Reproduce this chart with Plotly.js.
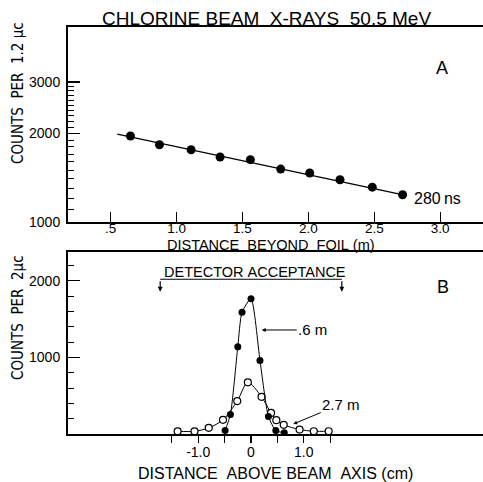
<!DOCTYPE html>
<html>
<head>
<meta charset="utf-8">
<script src="https://cdn.plot.ly/plotly-3.0.1.min.js"></script>
<style>
  html, body { margin: 0; padding: 0; background: #fff; }
  #chart { width: 483px; height: 482px; }
</style>
</head>
<body>
<div id="chart"></div>
<script>
// ---- Panel A data: counts vs distance beyond foil ----
const distanceA = [0.65, 0.87, 1.11, 1.33, 1.56, 1.79, 2.01, 2.24, 2.485, 2.715];
const countsA   = [1961, 1830, 1760, 1663, 1628, 1512, 1466, 1390, 1312, 1236];
const fitX = [0.55, 2.72];
const fitY = [1990, 1234];
const tickValsA = [0.5, 1.0, 1.5, 2.0, 2.5, 3.0];
const tickTextA = [".5", "1.0", "1.5", "2.0", "2.5", "3.0"];
const yTickValsA = [1000, 2000, 3000];
const yMinorA = [1100,1200,1300,1400,1500,1600,1700,1800,1900,2100,2200,2300,2400,2500,2600,2700,2800,2900];

// ---- Panel B data: counts vs distance above beam axis ----
const near_x = [-0.49, -0.39, -0.25, -0.17, 0.0, 0.17, 0.33, 0.47, 0.63];
const near_y = [45, 255, 1140, 1590, 1765, 960, 230, 45, 15];
const far_x  = [-1.39, -1.07, -0.80, -0.53, -0.26, -0.06, 0.20, 0.38, 0.48, 0.62, 0.92, 1.19, 1.47];
const far_y  = [35, 35, 80, 185, 430, 675, 485, 275, 180, 120, 58, 36, 36];
const tickValsB = [-1.5, -1.0, -0.5, 0, 0.5, 1.0, 1.5];
const tickTextB = ["", "-1.0", "", "0", "", "1.0", ""];
const yTickValsB = [1000, 2000];
const yMinorB = [200, 400, 600, 800, 1200, 1400, 1600, 1800, 2200];
const acceptX = [-1.72, 1.72];
const acceptY = 2020;
const acceptTip = 1858;

const FONT = '"Liberation Sans", Arial, sans-serif';
const NARROW = '"Liberation Sans Narrow", "DejaVu Sans Condensed", "Liberation Sans", Arial, sans-serif';
const NB = '\u00a0';

const traces = [
  { x: fitX, y: fitY, xaxis: 'x', yaxis: 'y', mode: 'lines',
    line: { color: '#000', width: 1.2 }, hoverinfo: 'skip' },
  { x: distanceA, y: countsA, xaxis: 'x', yaxis: 'y', mode: 'markers',
    marker: { color: '#000', size: 9 } },
  { x: far_x, y: far_y, xaxis: 'x2', yaxis: 'y2', mode: 'lines+markers',
    line: { color: '#000', width: 1, shape: 'spline', smoothing: 0.8 },
    marker: { color: '#fff', size: 7, line: { color: '#000', width: 1.2 } } },
  { x: near_x, y: near_y, xaxis: 'x2', yaxis: 'y2', mode: 'lines+markers',
    line: { color: '#000', width: 1, shape: 'spline', smoothing: 0.6 },
    marker: { color: '#000', size: 7 } }
];

const W = 483, H = 482, L = 68;
const px = v => (v - L) / (W - L);
const py = v => 1 - v / H;

const axisCommon = {
  showline: true, linecolor: '#000', linewidth: 2, showgrid: false, zeroline: false,
  tickcolor: '#000', tickwidth: 1.3, tickfont: { family: FONT, size: 14, color: '#000' }
};

const layout = {
  width: W, height: H,
  margin: { l: L, r: 0, t: 0, b: 0 },
  paper_bgcolor: '#fff', plot_bgcolor: '#fff',
  showlegend: false,
  font: { family: FONT, color: '#000' },
  xaxis: Object.assign({}, axisCommon, {
    anchor: 'y', domain: [0, 1], range: [0.176, 3.325],
    tickmode: 'array', tickvals: tickValsA, ticktext: tickTextA,
    ticks: 'inside', ticklen: 10, mirror: true, ticklabelstandoff: -7,
    tickfont: { family: FONT, size: 13.5, color: '#000' }
  }),
  yaxis: Object.assign({}, axisCommon, {
    anchor: 'x', domain: [py(221.7), py(27.3)], type: 'log', range: [3, 3.6635],
    tickmode: 'array', tickvals: yTickValsA, ticktext: yTickValsA.map(String),
    ticks: 'inside', ticklen: 12, ticklabelstandoff: 3,
    minor: { tickmode: 'array', tickvals: yMinorA, ticks: 'inside', ticklen: 6, tickcolor: '#000', tickwidth: 1 }
  }),
  xaxis2: Object.assign({}, axisCommon, {
    anchor: 'y2', domain: [0, 1], range: [-3.466, 4.394],
    tickmode: 'array', tickvals: tickValsB, ticktext: tickTextB,
    ticks: 'outside', ticklen: 7, mirror: true, ticklabelstandoff: -3
  }),
  yaxis2: Object.assign({}, axisCommon, {
    anchor: 'x2', domain: [py(434), py(252.3)], range: [0, 2372],
    tickmode: 'array', tickvals: yTickValsB, ticktext: yTickValsB.map(String),
    ticks: 'inside', ticklen: 12, ticklabelstandoff: 3,
    minor: { tickmode: 'array', tickvals: yMinorB, ticks: 'inside', ticklen: 6, tickcolor: '#000', tickwidth: 1 }
  }),
  shapes: [
    { type: 'line', xref: 'x2', yref: 'y2', x0: acceptX[0], x1: acceptX[1], y0: acceptY, y1: acceptY,
      line: { color: '#000', width: 1.2 } }
  ],
  annotations: [
    { xref: 'paper', yref: 'paper', x: px(266.7), y: py(19), showarrow: false,
      text: 'CHLORINE' + NB + 'BEAM' + NB + NB + 'X-RAYS' + NB + NB + '50.5' + NB + 'MeV',
      font: { family: FONT, size: 19 }, xanchor: 'center', yanchor: 'middle' },
    { xref: 'paper', yref: 'paper', x: px(270.5), y: py(245.5), showarrow: false,
      text: 'DISTANCE' + NB + NB + 'BEYOND' + NB + NB + 'FOIL' + NB + '(m)',
      font: { family: FONT, size: 14.5 }, xanchor: 'center', yanchor: 'middle' },
    { xref: 'paper', yref: 'paper', x: px(275), y: py(473), showarrow: false,
      text: 'DISTANCE' + NB + NB + 'ABOVE' + NB + 'BEAM' + NB + NB + 'AXIS' + NB + '(cm)',
      font: { family: FONT, size: 16 }, xanchor: 'center', yanchor: 'middle' },
    { xref: 'paper', yref: 'paper', x: px(18), y: py(93), showarrow: false, textangle: -90,
      text: 'COUNTS' + NB + NB + 'PER' + NB + NB + '1.2' + NB + 'μc',
      font: { family: NARROW, size: 15 }, xanchor: 'center', yanchor: 'middle' },
    { xref: 'paper', yref: 'paper', x: px(18), y: py(318), showarrow: false, textangle: -90,
      text: 'COUNTS' + NB + NB + 'PER' + NB + NB + '2μc',
      font: { family: NARROW, size: 15 }, xanchor: 'center', yanchor: 'middle' },
    { xref: 'paper', yref: 'paper', x: px(441.7), y: py(68.3), showarrow: false,
      text: 'A', font: { family: FONT, size: 18 }, xanchor: 'center', yanchor: 'middle' },
    { xref: 'paper', yref: 'paper', x: px(443.3), y: py(286.7), showarrow: false,
      text: 'B', font: { family: FONT, size: 18 }, xanchor: 'center', yanchor: 'middle' },
    { xref: 'paper', yref: 'paper', x: px(437.5), y: py(198), showarrow: false,
      text: '280\u2009ns', font: { family: FONT, size: 16 }, xanchor: 'center', yanchor: 'middle' },
    { xref: 'x2', yref: 'y2', x: 0.076, y: 2119, showarrow: false,
      text: 'DETECTOR' + NB + 'ACCEPTANCE', font: { family: FONT, size: 14.5 },
      xanchor: 'center', yanchor: 'middle' },
    { xref: 'x2', yref: 'y2', x: acceptX[0], y: acceptTip, text: '', showarrow: true,
      ax: 0, ay: -12, arrowhead: 2, arrowsize: 0.8, arrowwidth: 1.2, arrowcolor: '#000' },
    { xref: 'x2', yref: 'y2', x: acceptX[1], y: acceptTip, text: '', showarrow: true,
      ax: 0, ay: -12, arrowhead: 2, arrowsize: 0.8, arrowwidth: 1.2, arrowcolor: '#000' },
    { xref: 'x2', yref: 'y2', x: 0.203, y: 1358, text: '.6' + NB + 'm', showarrow: true,
      ax: 51, ay: 0, arrowhead: 2, arrowsize: 0.8, arrowwidth: 1, arrowcolor: '#000',
      font: { family: FONT, size: 15 } },
    { xref: 'x2', yref: 'y2', x: 0.80, y: 130, text: '2.7' + NB + 'm', showarrow: true,
      ax: 48, ay: -20, arrowhead: 2, arrowsize: 0.8, arrowwidth: 1, arrowcolor: '#000',
      font: { family: FONT, size: 15 } }
  ]
};

Plotly.newPlot('chart', traces, layout, { staticPlot: true, displayModeBar: false });
</script>
</body>
</html>
